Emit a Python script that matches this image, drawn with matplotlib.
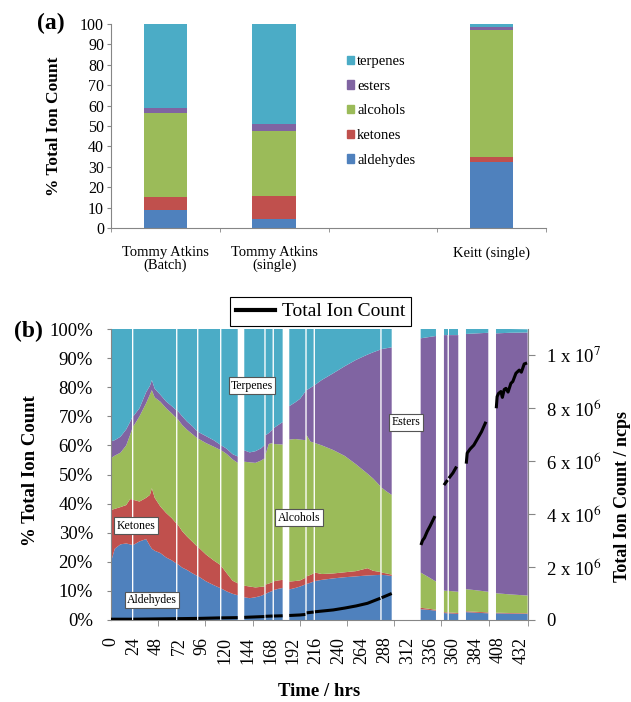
import numpy as np
import matplotlib
matplotlib.use('Agg')
import matplotlib.pyplot as plt
from matplotlib.patches import Patch
from matplotlib.lines import Line2D

plt.rcParams['font.family'] = ['Liberation Serif', 'DejaVu Serif']
plt.rcParams['mathtext.fontset'] = 'stix'

# ---- panel (a): stacked composition per cultivar ----
cultivars = ['Tommy Atkins\n(Batch)', 'Tommy Atkins\n(single)', '', 'Keitt (single)']
a_aldehydes = [9.0, 4.3, 0, 32.5]
a_ketones = [6.0, 11.2, 0, 2.5]
a_alcohols = [41.5, 32.0, 0, 62.0]
a_esters = [2.5, 3.5, 0, 1.5]
a_terpenes = [41.0, 49.0, 0, 1.5]

# ---- panel (b): % composition over time (None = no data) ----
hours = [0, 4, 10, 16, 20, 22.1, None,
         23.5, 30, 37, 41, 43, 46, 52, 58, 64, 68.5, None,
         69.9, 75, 80, 86, 90.6, None,
         92, 100, 108, 114.8, None,
         116.2, 122, 128, 133.4, None,
         140.3, 146, 152, 158, 161.4, None,
         162.8, 166, 170.1, None,
         171.5, 176, 180.7, None,
         187.7, 194, 199, 204.6, None,
         206, 210, 213.3, None,
         214.7, 222, 234, 246, 258, 270, 276, 283.5, None,
         284.9, 290, 295.5, None,
         326, 334, 342.1, None,
         350.5, 354.3, None,
         355.7, 365.6, None,
         373.7, 385, 397.2, None,
         405.3, 420, 438.6]
aldehydes = [20.0, 24.5, 26.0, 26.3, 26.0, 25.8, None,
             25.8, 27.0, 27.8, 25.5, 24.5, 23.8, 23.0, 21.5, 20.5, 19.5, None,
             19.3, 18.0, 17.2, 16.0, 15.2, None,
             15.0, 13.3, 12.0, 11.0, None,
             10.8, 9.8, 9.0, 8.5, None,
             7.8, 7.5, 7.8, 8.3, 8.8, None,
             9.0, 9.5, 10.0, None,
             10.3, 10.7, 11.0, None,
             10.5, 11.0, 11.5, 12.2, None,
             12.4, 12.8, 13.2, None,
             13.4, 13.8, 14.3, 14.7, 15.0, 15.3, 15.4, 15.5, None,
             15.5, 15.4, 15.1, None,
             3.7, 3.5, 3.2, None,
             2.4, 2.3, None,
             2.3, 2.1, None,
             2.7, 2.5, 2.3, None,
             2.3, 2.2, 2.1]
ketones = [17.8, 13.7, 12.8, 13.2, 15.5, 15.7, None,
           15.5, 13.7, 14.2, 17.5, 20.8, 18.2, 16.0, 15.3, 14.5, 13.8, None,
           13.7, 12.5, 11.5, 10.8, 10.1, None,
           10.0, 9.2, 8.5, 8.0, None,
           7.7, 6.2, 4.5, 4.1, None,
           4.0, 4.0, 3.4, 3.1, 2.7, None,
           3.2, 3.0, 3.0, None,
           3.0, 2.9, 2.8, None,
           2.7, 2.4, 2.1, 2.3, None,
           2.6, 2.7, 2.8, None,
           2.9, 2.0, 1.7, 1.7, 1.8, 2.5, 1.5, 1.0, None,
           0.8, 0.6, 0.5, None,
           0.5, 0.4, 0.3, None,
           0.3, 0.3, None,
           0.3, 0.3, None,
           0.3, 0.3, 0.3, None,
           0.2, 0.2, 0.2]
alcohols = [17.8, 18.3, 18.7, 20.5, 22.0, 24.0, None,
            25.2, 29.3, 32.5, 34.5, 33.7, 34.5, 36.0, 36.0, 36.0, 36.2, None,
            36.2, 36.5, 36.7, 37.0, 37.2, None,
            37.3, 38.3, 39.1, 39.5, None,
            39.8, 41.0, 41.7, 41.4, None,
            42.6, 42.7, 42.8, 43.4, 44.0, None,
            44.8, 48.0, 47.8, None,
            47.2, 46.8, 46.5, None,
            48.8, 48.8, 48.4, 47.3, None,
            48.5, 45.8, 45.0, None,
            44.5, 44.2, 42.4, 40.0, 36.7, 32.5, 31.7, 29.5, None,
            29.2, 28.2, 27.4, None,
            12.1, 10.9, 9.7, None,
            7.4, 7.4, None,
            7.4, 7.3, None,
            7.6, 7.4, 7.1, None,
            6.7, 6.4, 6.1]
esters = [5.8, 5.3, 5.5, 5.5, 4.5, 4.0, None,
          3.5, 2.8, 3.8, 3.0, 3.5, 3.0, 2.4, 2.3, 2.5, 2.7, None,
          2.8, 3.0, 2.8, 2.7, 2.4, None,
          2.3, 2.4, 2.2, 1.8, None,
          1.7, 1.8, 1.8, 2.2, None,
          3.9, 3.4, 4.0, 4.2, 4.5, None,
          6.5, 3.7, 4.7, None,
          5.5, 6.6, 7.7, None,
          11.5, 12.6, 14.0, 16.7, None,
          15.5, 18.5, 19.5, None,
          20.0, 22.5, 26.4, 30.8, 35.9, 40.9, 43.4, 46.9, None,
          47.6, 49.2, 50.7, None,
          80.5, 82.4, 84.4, None,
          87.8, 87.9, None,
          87.9, 88.2, None,
          87.7, 88.3, 89.0, None,
          89.3, 89.9, 90.4]
terpenes = [38.6, 38.2, 37.0, 34.5, 32.0, 30.5, None,
            30.0, 27.2, 21.7, 19.5, 17.5, 20.5, 22.6, 24.9, 26.5, 27.8, None,
            28.0, 30.0, 31.8, 33.5, 35.1, None,
            35.4, 36.8, 38.2, 39.7, None,
            40.0, 41.2, 43.0, 43.8, None,
            41.7, 42.4, 42.0, 41.0, 40.0, None,
            36.5, 35.8, 34.5, None,
            34.0, 33.0, 32.0, None,
            26.5, 25.2, 24.0, 21.5, None,
            21.0, 20.2, 19.5, None,
            19.2, 17.5, 15.2, 12.8, 10.6, 8.8, 8.0, 7.1, None,
            6.9, 6.6, 6.3, None,
            3.2, 2.8, 2.4, None,
            2.1, 2.1, None,
            2.1, 2.1, None,
            1.7, 1.5, 1.3, None,
            1.5, 1.3, 1.1]

# total ion count (x 10^6 ncps)
tic_hours = [0, 22.1, None, 23.5, 68.5, None, 69.9, 90.6, None, 92, 114.8, None,
             116.2, 133.4, None, 140.3, 161.4, None, 162.8, 170.1, None,
             171.5, 180.7, None, 187.7, 199, 204.6, None, 206, 213.3, None,
             214.7, 234, 246, 258, 270, 283.5, None, 284.9, 295.5, None,
             326.3, 328, 330, 333, 336, 338, 341, None,
             350.5, 354.3, None, 355.7, 360, 363.8, None,
             374, 375, 378, 382, 386, 390, 394.7, None,
             405.6, 406.5, 408, 410.5, 412, 414, 415.8, 418, 421, 423,
             426.3, 429.8, 432, 435, 438]
tic_values = [0.03, 0.03, None, 0.03, 0.05, None, 0.05, 0.06, None, 0.06, 0.08, None,
              0.08, 0.09, None, 0.10, 0.13, None, 0.14, 0.15, None,
              0.15, 0.16, None, 0.17, 0.19, 0.21, None, 0.27, 0.30, None,
              0.31, 0.38, 0.45, 0.53, 0.63, 0.82, None, 0.84, 1.00, None,
              2.83, 3.0, 3.1, 3.35, 3.55, 3.7, 3.92, None,
              5.09, 5.28, None, 5.35, 5.55, 5.79, None,
              5.9, 6.3, 6.45, 6.6, 6.85, 7.1, 7.48, None,
              7.99, 8.43, 8.55, 8.62, 8.4, 8.7, 8.74, 8.6, 8.93, 9.0,
              9.31, 9.43, 9.35, 9.66, 9.7]

names = ['aldehydes', 'ketones', 'alcohols', 'esters', 'terpenes']
colors = ['#4F81BD', '#C0504D', '#9BBB59', '#8064A2', '#4BACC6']
gray = '#868686'
W, H = 631, 702

fig = plt.figure(figsize=(W / 100, H / 100), dpi=100)

# ---------------- (a) ----------------
axa = fig.add_axes([111 / W, 1 - 228 / H, 435 / W, 204 / H])
x = np.arange(len(cultivars))
bottom = np.zeros(len(cultivars))
for vals, c, n in zip([a_aldehydes, a_ketones, a_alcohols, a_esters, a_terpenes], colors, names):
    axa.bar(x, vals, 0.4, bottom=bottom, color=c, label=n, linewidth=0)
    bottom += np.array(vals)
axa.set_xlim(-0.5, 3.5)
axa.set_ylim(0, 100)
axa.set_yticks(range(0, 101, 10))
axa.set_xticks(x)
axa.set_xticklabels(cultivars, fontsize=10.5, linespacing=0.95)
axa.set_xticks(np.arange(-0.5, 4, 1), minor=True)
axa.tick_params(axis='x', which='major', length=0, pad=13)
axa.tick_params(axis='x', which='minor', length=3, color=gray)
axa.tick_params(axis='y', length=3, color=gray, labelsize=11.5, pad=2)
for s in ['top', 'right']:
    axa.spines[s].set_visible(False)
for s in ['left', 'bottom']:
    axa.spines[s].set_color(gray)
axa.set_ylabel('% Total Ion Count', fontsize=12.5, fontweight='bold')
axa.yaxis.set_label_coords(-0.113, 0.5)
handles = [Patch(color=c) for c in colors][::-1]
axa.legend(handles, names[::-1], loc='upper left', bbox_to_anchor=(347 / W, 1 - 55 / H),
           bbox_transform=fig.transFigure, frameon=False, fontsize=10.5,
           handlelength=0.5, handleheight=0.5, handletextpad=0.2,
           labelspacing=0.8, borderpad=0, borderaxespad=0)
fig.text(51 / W, 1 - 23 / H, '(a)', fontsize=17, fontweight='bold', ha='center', va='center')

# ---------------- (b) ----------------
axb = fig.add_axes([111 / W, 1 - 620 / H, 417 / W, 291 / H])
h = np.array(hours, dtype=float)
series = [np.array(s, dtype=float) for s in [aldehydes, ketones, alcohols, esters, terpenes]]
axb.stackplot(h, *series, colors=colors, linewidth=0)
axb.set_xlim(0, 439)
axb.set_ylim(0, 100)
axb.set_yticks(range(0, 101, 10))
axb.set_yticklabels(['%d%%' % v for v in range(0, 101, 10)])
axb.set_xticks(np.arange(0, 433, 24))
axb.set_xticklabels([str(v) for v in range(0, 433, 24)], rotation=90)
axb.set_xticks(list(np.arange(0, 439, 49.7)) + [439], minor=True)
axb.tick_params(axis='x', which='major', length=0, pad=12, labelsize=13)
axb.tick_params(axis='x', which='minor', length=4, color=gray)
axb.tick_params(axis='y', length=3, color=gray, labelsize=13.5, pad=10)
for s in ['top', 'right']:
    axb.spines[s].set_visible(False)
for s in ['left', 'bottom']:
    axb.spines[s].set_color(gray)
axb.set_ylabel('% Total Ion Count', fontsize=13.5, fontweight='bold')
axb.yaxis.set_label_coords(-0.172, 0.515)
axb.set_xlabel('Time / hrs', fontsize=13.5, fontweight='bold')
axb.xaxis.set_label_coords(0.5, -0.218)

box = dict(boxstyle='square,pad=0.2', fc='white', ec='#555555', lw=0.8)
for txt, tx, ty in [('Terpenes', 148.4, 80.5), ('Ketones', 26.3, 32.4), ('Aldehydes', 43.2, 6.9),
                    ('Alcohols', 197.9, 35.2), ('Esters', 310.5, 67.9)]:
    axb.text(tx, ty, txt, ha='center', va='center', fontsize=8.5, bbox=box, zorder=5)

ax2 = axb.twinx()
ax2.plot(np.array(tic_hours, dtype=float), np.array(tic_values, dtype=float) * 1e6,
         color='black', lw=2.2, solid_capstyle='butt')
ax2.set_ylim(0, 1.098e7)
ax2.set_yticks(np.arange(0, 1.01e7, 2e6))
ax2.set_yticklabels(['0', r'2 x 10$^6$', r'4 x 10$^6$', r'6 x 10$^6$', r'8 x 10$^6$', r'1 x 10$^7$'])
ax2.tick_params(axis='y', length=5, color=gray, labelsize=13.5, pad=8)
for s in ['top', 'left', 'bottom']:
    ax2.spines[s].set_visible(False)
ax2.spines['right'].set_color(gray)
ax2.set_ylabel('Total Ion Count / ncps', fontsize=13, fontweight='bold')
ax2.yaxis.set_label_coords(1.207, 0.426)

leg = fig.legend([Line2D([], [], color='black', lw=3)], ['Total Ion Count'], loc='center',
                 bbox_to_anchor=((226 + 415) / 2 / W, 1 - 311.5 / H), fontsize=14,
                 frameon=True, fancybox=False, edgecolor='black', framealpha=1,
                 handlelength=2.0, handletextpad=0.35, borderpad=0.3)
leg.get_frame().set_linewidth(0.8)
fig.text(28 / W, 1 - 331 / H, '(b)', fontsize=17, fontweight='bold', ha='center', va='center')

fig.savefig('out.png', dpi=100)
